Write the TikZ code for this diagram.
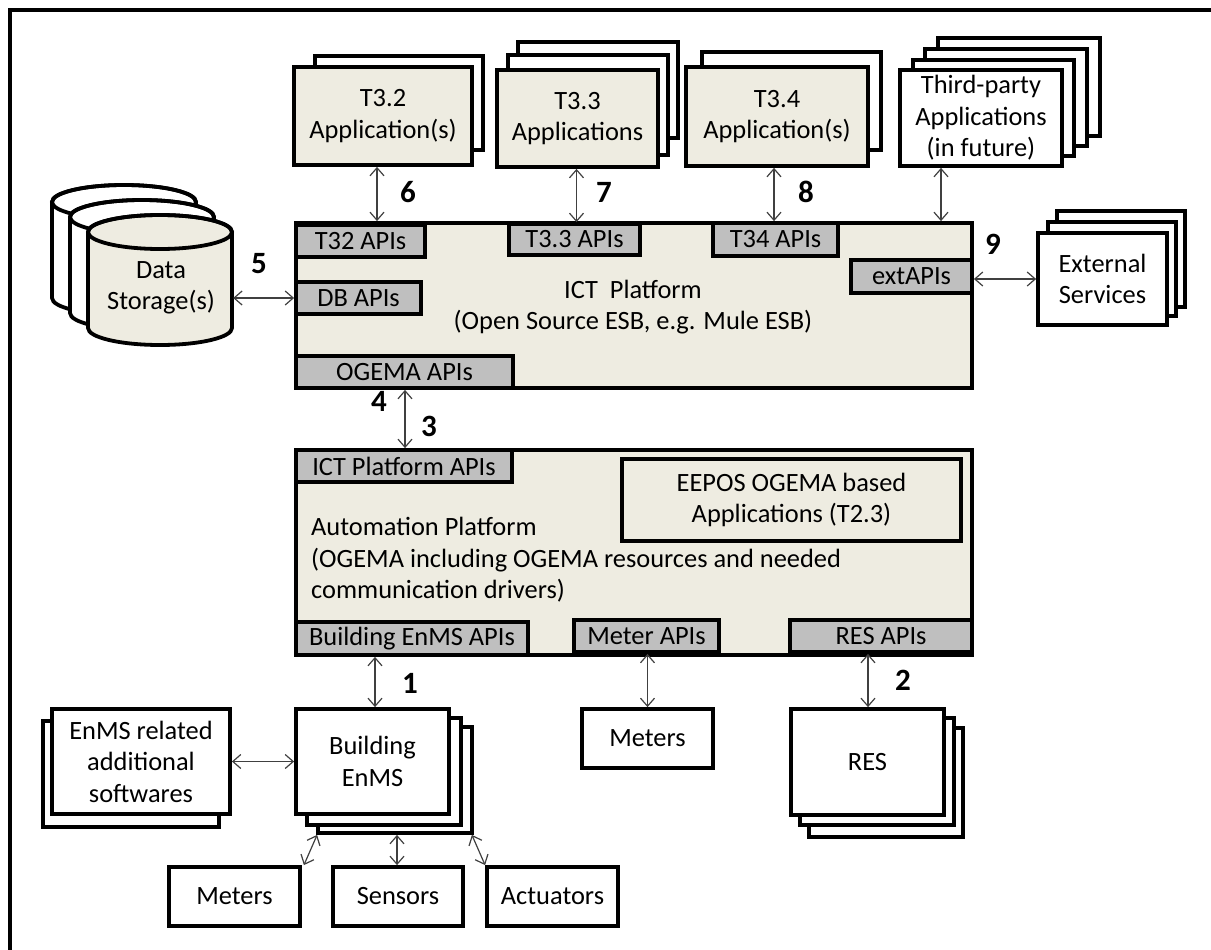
\documentclass[tikz,border=0pt]{standalone}
\usepackage{fontspec}
\setmainfont{Carlito}
\usetikzlibrary{arrows.meta,calc}

\definecolor{panel}{HTML}{EEECE1}
\definecolor{apigrey}{HTML}{BFBFBF}
\definecolor{linkgrey}{HTML}{404040}

\tikzset{
  every node/.style={font=\fontsize{26.4}{31.5}\selectfont, inner sep=0pt, text=black},
  block/.style={draw=black, line width=3.8pt, fill=panel, align=center},
  whitebox/.style={block, fill=white},
  apibox/.style={block, fill=apigrey},
  sheet/.style={draw=black, line width=3.8pt, fill=white},
  link/.style={draw=linkgrey, line width=1.2pt,
    {Straight Barb[length=8pt,width=14pt]}-{Straight Barb[length=8pt,width=14pt]}},
  num/.style={font=\fontsize{31}{31}\selectfont\bfseries},
}

% rectangle node given by its corners: style, name, x1, y1, x2, y2, text
\newcommand\boxnode[7]{%
  \node[#1, minimum width={(#5-#3)*1pt}, minimum height={(#6-#4)*1pt}]
    (#2) at ({(#3+#5)/2},{(#4+#6)/2}) {#7};}

% storage drum: centre x, y of top ellipse, fill colour
\newcommand\drum[3]{%
  \filldraw[line width=3.8pt, fill=#3]
    ({#1-72},#2) -- ({#1-72},{#2+96})
    arc[start angle=180, end angle=360, x radius=72pt, y radius=17pt]
    -- ({#1+72},#2)
    arc[start angle=0, end angle=180, x radius=72pt, y radius=17pt] -- cycle;
  \draw[line width=3.8pt] (#1,#2) ellipse[x radius=72pt, y radius=17pt];}

\begin{document}
\begin{tikzpicture}[x=1pt, y=-1pt]
\useasboundingbox (0,0) rectangle (1211,950);

% page frame
\draw[line width=4pt] (10,950) -- (10,10) -- (1211,10);

% ---------- application layer ----------
\boxnode{sheet}{t32b}{315}{56}{483}{150}{}
\boxnode{block}{t32app}{294}{67}{472}{165}{T3.2\\Application(s)}

\boxnode{sheet}{t33c}{518}{42}{678}{138}{}
\boxnode{sheet}{t33b}{508}{55}{668}{155}{}
\boxnode{block}{t33app}{497}{70}{658}{167}{T3.3\\Applications}

\boxnode{sheet}{t34b}{702}{52}{881}{150}{}
\boxnode{block}{t34app}{686}{67}{868}{166}{T3.4\\Application(s)}

\boxnode{sheet}{tpd}{938}{38}{1100}{136}{}
\boxnode{sheet}{tpc}{925}{49}{1087}{146}{}
\boxnode{sheet}{tpb}{913}{60}{1074}{156}{}
\boxnode{whitebox}{third}{900}{70}{1062}{166}{Third-party\\Applications\\(in future)}

% ---------- data storage ----------
\drum{124}{202}{white}
\drum{142}{217}{white}
\drum{160}{232}{panel}
\node[minimum width=144pt, minimum height=130pt, align=center] (store) at (161,288) {Data\\Storage(s)};

% ---------- ICT platform ----------
\boxnode{block}{ict}{296}{223}{972}{388}{}
\node[align=center] at (633,307) {ICT\ \ Platform\\(Open Source ESB, e.g. Mule ESB)};
\boxnode{apibox}{t32api}{296}{225}{425}{257}{T32 APIs}
\boxnode{apibox}{t33api}{509}{224}{640}{255}{T3.3 APIs}
\boxnode{apibox}{t34api}{713}{223}{838}{256}{T34 APIs}
\boxnode{apibox}{extapi}{851}{260}{972}{293}{extAPIs}
\boxnode{apibox}{dbapi}{296}{282}{421}{314}{DB APIs}
\boxnode{apibox}{ogema}{296}{356}{513}{388}{OGEMA APIs}

% ---------- external services ----------
\boxnode{sheet}{extc}{1057}{211}{1185}{307}{}
\boxnode{sheet}{extb}{1048}{222}{1176}{316}{}
\boxnode{whitebox}{ext}{1038}{233}{1167}{325}{External\\Services}

% ---------- automation platform ----------
\boxnode{block}{auto}{296}{450}{972}{655}{}
\boxnode{apibox}{ictapi}{296}{450}{512}{482}{ICT Platform APIs}
\boxnode{block}{eepos}{622}{459}{961}{541}{EEPOS OGEMA based\\Applications (T2.3)}
\node[anchor=west, align=left] at (311,560)
  {Automation Platform\\(OGEMA including OGEMA resources and needed\\communication drivers)};
\boxnode{apibox}{benmsapi}{296}{622}{528}{655}{Building EnMS APIs}
\boxnode{apibox}{meterapi}{574}{620}{719}{652}{Meter APIs}
\boxnode{apibox}{resapi}{790}{620}{972}{652}{RES APIs}

% ---------- field level ----------
\boxnode{sheet}{benms3}{318}{727}{472}{833}{}
\boxnode{sheet}{benms2}{307}{718}{461}{825}{}
\boxnode{whitebox}{benms}{296}{709}{449}{814}{Building\\EnMS}

\boxnode{sheet}{enmsrelb}{43}{721}{219}{827}{}
\boxnode{whitebox}{enmsrel}{52}{709}{230}{814}{EnMS related\\additional\\softwares}

\boxnode{whitebox}{meterslo}{169}{867}{300}{926}{Meters}
\boxnode{whitebox}{sensors}{333}{867}{463}{926}{Sensors}
\boxnode{whitebox}{actuators}{487}{867}{618}{926}{Actuators}

\boxnode{whitebox}{meters}{582}{709}{713}{768}{Meters}

\boxnode{sheet}{res3}{809}{728}{963}{837}{}
\boxnode{sheet}{res2}{800}{718}{954}{825}{}
\boxnode{whitebox}{res}{791}{709}{944}{815}{RES}

% ---------- connectors ----------
\draw[link] (store.east |- dbapi.west) -- (dbapi.west);
\draw[link] ([xshift=-6pt]t32app.south) -- ([xshift=-6pt]t32app.south |- ict.north);
\draw[link] ([xshift=-1pt]t33app.south) -- ([xshift=-1pt]t33app.south |- t33api.north);
\draw[link] ([xshift=-3pt]t34app.south) -- ([xshift=-3pt]t34app.south |- ict.north);
\draw[link] ([xshift=-40pt]third.south) -- ([xshift=-40pt]third.south |- ict.north);
\draw[link] (ext.west -| ict.east) -- (ext.west);
\draw[link] ([xshift=0.5pt]ogema.south) -- ([xshift=0.5pt]ogema.south |- auto.north);
\draw[link] ([xshift=2.5pt]benms.north |- benmsapi.south) -- ([xshift=2.5pt]benms.north);
\draw[link] (meters.north |- meterapi.south) -- (meters.north);
\draw[link] ([xshift=0.5pt]res.north |- resapi.south) -- ([xshift=0.5pt]res.north);
\draw[link] (enmsrel.east) -- (enmsrel.east -| benms.west);
\draw[link] ([xshift=1pt]benms3.south west) -- ([xshift=2pt]meterslo.north east);
\draw[link] ([xshift=-1pt]sensors.north |- benms3.south) -- ([xshift=-1pt]sensors.north);
\draw[link] ([xshift=-2pt]benms3.south east) -- (actuators.north west);

% ---------- interface numbers ----------
\node[num] at (259,264) {5};
\node[num] at (408,192) {6};
\node[num] at (604,192) {7};
\node[num] at (806,192) {8};
\node[num] at (993,244) {9};
\node[num] at (379,401) {4};
\node[num] at (429,426) {3};
\node[num] at (410,683) {1};
\node[num] at (903,680) {2};
\end{tikzpicture}
\end{document}
